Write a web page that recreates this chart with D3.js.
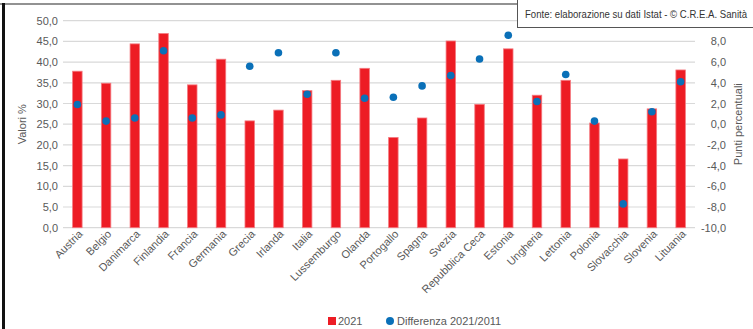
<!DOCTYPE html>
<html>
<head>
<meta charset="utf-8">
<script src="https://cdn.jsdelivr.net/npm/d3@7"></script>
<style>
  body { margin: 0; background: #fff; }
  svg { display: block; font-family: "Liberation Sans", Arial, sans-serif; }
  .tick text { fill: #595959; }
</style>
</head>
<body>
<div id="chart"></div>
<script>
// Countries (x axis)
const countries = ["Austria", "Belgio", "Danimarca", "Finlandia", "Francia", "Germania", "Grecia",
  "Irlanda", "Italia", "Lussemburgo", "Olanda", "Portogallo", "Spagna", "Svezia", "Repubblica Ceca",
  "Estonia", "Ungheria", "Lettonia", "Polonia", "Slovacchia", "Slovenia", "Lituania"];

// Bars: 2021 values (left axis, %)
const values2021 = [37.8, 34.9, 44.4, 46.9, 34.5, 40.7, 25.8,
  28.4, 33.1, 35.6, 38.5, 21.8, 26.5, 45.1, 29.8,
  43.2, 32.0, 35.6, 25.3, 16.6, 28.7, 38.1];

// Dots: difference 2021/2011 (right axis, percentage points)
const diff2021_2011 = [1.9, 0.3, 0.6, 7.1, 0.6, 0.9, 5.6,
  6.9, 2.9, 6.9, 2.5, 2.6, 3.7, 4.7, 6.3,
  8.6, 2.2, 4.8, 0.3, -7.7, 1.2, 4.1];

const leftTicks = [0, 5, 10, 15, 20, 25, 30, 35, 40, 45, 50];
const rightTicks = [-10, -8, -6, -4, -2, 0, 2, 4, 6, 8];
const legendLabels = ["2021", "Differenza 2021/2011"];
const sourceText = "Fonte: elaborazione su dati Istat - © C.R.E.A. Sanità";

const W = 753, H = 329;
const plot = { left: 63, right: 695, top: 20.7, bottom: 227.7 };
const fmt = v => v.toFixed(1).replace(".", ",");
const fs = 11;

const svg = d3.select("#chart").append("svg")
  .attr("width", W)
  .attr("height", H);

// Frame lines (top and left edge of the page frame)
svg.append("line")
  .attr("x1", 0).attr("x2", 517).attr("y1", 4).attr("y2", 4)
  .attr("stroke", "#6e6e6e").attr("stroke-width", 1.5);
svg.append("line")
  .attr("x1", 3.5).attr("x2", 3.5).attr("y1", 3).attr("y2", H)
  .attr("stroke", "#111").attr("stroke-width", 3);

// Scales
const x = d3.scaleBand()
  .domain(countries)
  .range([plot.left, plot.right])
  .paddingInner(0.67)
  .paddingOuter(0.335);

const yLeft = d3.scaleLinear().domain([0, 50]).range([plot.bottom, plot.top]);
const yRight = d3.scaleLinear().domain([-10, 10]).range([plot.bottom, plot.top]);

// Gridlines
svg.append("g")
  .selectAll("line")
  .data(leftTicks)
  .join("line")
  .attr("x1", plot.left).attr("x2", plot.right)
  .attr("y1", d => yLeft(d)).attr("y2", d => yLeft(d))
  .attr("stroke", "#d9d9d9").attr("stroke-width", 1.2);

// Left axis
const leftAxis = svg.append("g")
  .attr("transform", `translate(${plot.left - 5},0)`)
  .call(d3.axisLeft(yLeft).tickValues(leftTicks).tickFormat(fmt).tickSize(0).tickPadding(0));
leftAxis.select(".domain").remove();
leftAxis.selectAll("text").attr("font-size", fs);

// Right axis
const rightAxis = svg.append("g")
  .attr("transform", `translate(${plot.right + 31},0)`)
  .call(d3.axisRight(yRight).tickValues(rightTicks).tickFormat(fmt).tickSize(0).tickPadding(0));
rightAxis.select(".domain").remove();
rightAxis.selectAll("text").attr("font-size", fs).attr("text-anchor", "end");

// Axis titles
svg.append("text")
  .attr("transform", `translate(26,${(plot.top + plot.bottom) / 2}) rotate(-90)`)
  .attr("text-anchor", "middle")
  .attr("fill", "#595959")
  .attr("font-size", fs)
  .text("Valori %");

svg.append("text")
  .attr("transform", `translate(742,${(plot.top + plot.bottom) / 2}) rotate(-90)`)
  .attr("text-anchor", "middle")
  .attr("fill", "#595959")
  .attr("font-size", fs)
  .text("Punti percentuali");

// Bars
svg.append("g")
  .selectAll("rect")
  .data(countries)
  .join("rect")
  .attr("x", d => x(d))
  .attr("y", (d, i) => yLeft(values2021[i]))
  .attr("width", x.bandwidth())
  .attr("height", (d, i) => yLeft(0) - yLeft(values2021[i]))
  .attr("fill", "#ed1c24")
  .attr("stroke", "#f47a80")
  .attr("stroke-width", 0.8);

// Dots
svg.append("g")
  .selectAll("circle")
  .data(countries)
  .join("circle")
  .attr("cx", d => x(d) + x.bandwidth() / 2)
  .attr("cy", (d, i) => yRight(diff2021_2011[i]))
  .attr("r", 3.8)
  .attr("fill", "#0a70b8");

// X labels, rotated 45°
svg.append("g")
  .selectAll("text")
  .data(countries)
  .join("text")
  .attr("transform", d => `translate(${x(d) + x.bandwidth() / 2 + 6},${plot.bottom + 7}) rotate(-45)`)
  .attr("text-anchor", "end")
  .attr("fill", "#595959")
  .attr("font-size", fs)
  .text(d => d);

// Legend
const legend = svg.append("g");
legend.append("rect")
  .attr("x", 328).attr("y", 317).attr("width", 8).attr("height", 8)
  .attr("fill", "#ed1c24");
legend.append("text")
  .attr("x", 338).attr("y", 325)
  .attr("fill", "#595959").attr("font-size", fs)
  .text(legendLabels[0]);
legend.append("circle")
  .attr("cx", 390).attr("cy", 321).attr("r", 4)
  .attr("fill", "#0a70b8");
legend.append("text")
  .attr("x", 397).attr("y", 325)
  .attr("fill", "#595959").attr("font-size", fs)
  .text(legendLabels[1]);

// Source box (right edge runs off the page, as in the original)
svg.append("rect")
  .attr("x", 517.5).attr("y", -2).attr("width", 250).attr("height", 29.5)
  .attr("fill", "#fff")
  .attr("stroke", "#555").attr("stroke-width", 1);
svg.append("text")
  .attr("x", 525).attr("y", 18.5)
  .attr("fill", "#333").attr("font-size", 9.6)
  .attr("transform", "translate(525,0) scale(1,1.12) translate(-525,-2)")
  .text(sourceText);
</script>
</body>
</html>
